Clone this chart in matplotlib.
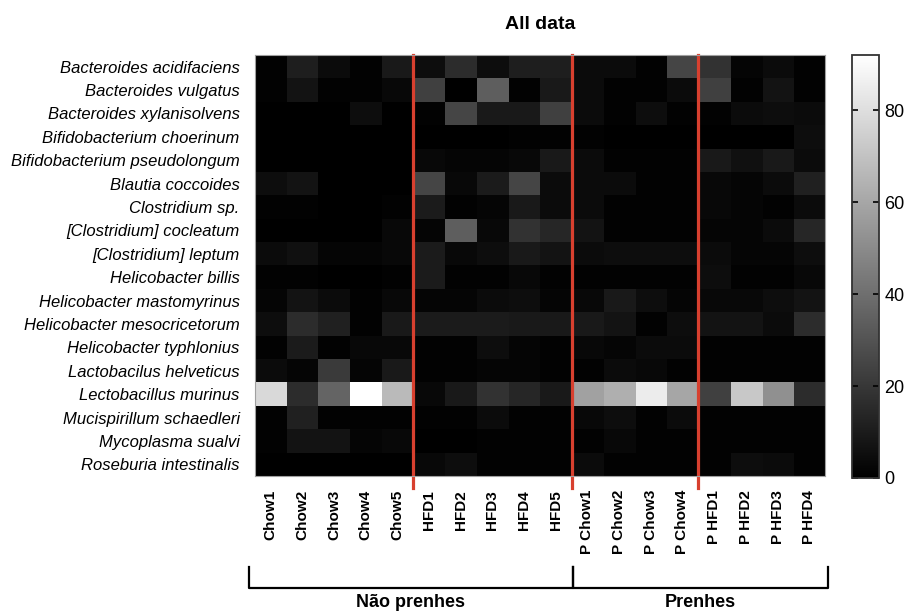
import numpy as np
import matplotlib
matplotlib.use('Agg')
import matplotlib.pyplot as plt
import matplotlib.transforms as mtransforms

plt.rcParams['font.family'] = ['Liberation Sans', 'DejaVu Sans']

# Species (rows) and samples (columns)
species = ['Bacteroides acidifaciens', 'Bacteroides vulgatus', 'Bacteroides xylanisolvens',
           'Bifidobacterium choerinum', 'Bifidobacterium pseudolongum', 'Blautia coccoides',
           'Clostridium sp.', '[Clostridium] cocleatum', '[Clostridium] leptum',
           'Helicobacter billis', 'Helicobacter mastomyrinus', 'Helicobacter mesocricetorum',
           'Helicobacter typhlonius', 'Lactobacilus helveticus', 'Lectobacillus murinus',
           'Mucispirillum schaedleri', 'Mycoplasma sualvi', 'Roseburia intestinalis']
samples = ['Chow1', 'Chow2', 'Chow3', 'Chow4', 'Chow5',
           'HFD1', 'HFD2', 'HFD3', 'HFD4', 'HFD5',
           'P Chow1', 'P Chow2', 'P Chow3', 'P Chow4',
           'P HFD1', 'P HFD2', 'P HFD3', 'P HFD4']

# Relative abundance per species (one list per row)
acidifaciens = [1, 11, 4, 1, 9, 5, 16, 5, 11, 11, 4, 4, 1, 25, 18, 2, 4, 1]
vulgatus = [1, 7, 1, 1, 3, 23, 0, 34, 1, 9, 4, 1, 1, 4, 23, 1, 7, 1]
xylanisolvens = [0, 0, 0, 5, 0, 1, 25, 9, 9, 23, 4, 1, 5, 1, 1, 4, 5, 4]
choerinum = [0, 0, 0, 0, 0, 0, 0, 0, 1, 1, 1, 0, 0, 0, 0, 0, 0, 5]
pseudolongum = [0, 0, 0, 0, 0, 3, 2, 2, 3, 9, 4, 1, 1, 1, 9, 6, 9, 4]
blautia = [5, 7, 0, 0, 0, 25, 3, 10, 25, 4, 4, 4, 1, 1, 3, 2, 4, 12]
clostridium_sp = [1, 1, 0, 0, 1, 10, 1, 2, 9, 4, 4, 1, 1, 1, 3, 2, 1, 4]
cocleatum = [0, 0, 0, 0, 3, 2, 34, 3, 18, 14, 7, 1, 1, 1, 2, 2, 4, 14]
leptum = [4, 6, 2, 2, 3, 10, 3, 5, 9, 7, 4, 5, 5, 5, 4, 2, 2, 5]
billis = [1, 1, 0, 0, 1, 10, 1, 1, 3, 1, 1, 1, 1, 1, 5, 1, 1, 3]
mastomyrinus = [2, 7, 4, 1, 3, 2, 2, 4, 5, 2, 3, 9, 5, 2, 3, 3, 5, 7]
mesocricetorum = [5, 16, 12, 1, 9, 10, 10, 10, 9, 9, 9, 7, 1, 5, 7, 7, 4, 16]
typhlonius = [1, 10, 1, 3, 3, 1, 1, 5, 2, 1, 3, 2, 4, 4, 1, 1, 1, 1]
helveticus = [4, 2, 21, 2, 9, 1, 1, 2, 2, 1, 1, 4, 3, 1, 1, 1, 1, 1]
murinus = [78, 16, 36, 92, 67, 3, 9, 18, 14, 9, 58, 63, 85, 60, 23, 72, 52, 16]
mucispirillum = [1, 12, 1, 1, 1, 1, 1, 4, 1, 1, 3, 5, 1, 4, 1, 1, 1, 1]
mycoplasma = [1, 7, 7, 2, 3, 0, 0, 1, 1, 1, 1, 3, 1, 1, 1, 1, 1, 1]
roseburia = [0, 0, 0, 0, 0, 3, 5, 1, 1, 1, 4, 1, 1, 1, 1, 5, 4, 1]

data = np.array([acidifaciens, vulgatus, xylanisolvens, choerinum, pseudolongum,
                 blautia, clostridium_sp, cocleatum, leptum, billis, mastomyrinus,
                 mesocricetorum, typhlonius, helveticus, murinus, mucispirillum,
                 mycoplasma, roseburia])

group_breaks = [5, 10, 14]  # red separators after these columns
groups = ['Não prenhes', 'Prenhes']
group_spans = [(0, 10), (10, 18)]

fig = plt.figure(figsize=(9.07, 6.12), dpi=100)
ax = fig.add_axes([0.2811, 0.2222, 0.6285, 0.6879])
im = ax.imshow(data, cmap='gray', vmin=0, vmax=92, aspect='auto', interpolation='nearest')

ax.set_xticks(range(len(samples)))
ax.set_xticklabels(samples, rotation=90, fontsize=11, fontweight='bold')
ax.set_yticks(range(len(species)))
ax.set_yticklabels(species, fontsize=12, style='italic')
ax.tick_params(length=0)
ax.tick_params(axis='x', pad=10)
ax.tick_params(axis='y', pad=11)
for s in ax.spines.values():
    s.set_color('#a0a0a0')
    s.set_linewidth(0.8)

# red group separators, running a little below the map
for b in group_breaks:
    ax.plot([b - 0.5, b - 0.5], [-0.5, 18.0], color='#d8402f', lw=2.3, clip_on=False)

ax.set_title('All data', fontsize=14, fontweight='bold', pad=19)

# brackets under the sample labels
trans = mtransforms.blended_transform_factory(ax.transData, fig.transFigure)
for name, (a, b) in zip(groups, group_spans):
    x0 = a - 0.5 - (0.2 if a == 0 else -0.05)
    x1 = b - 0.5 + (0.1 if b == len(samples) else 0.05)
    ax.plot([x0, x0, x1, x1], [0.0735, 0.0392, 0.0392, 0.0735], color='black',
            lw=1.6, transform=trans, clip_on=False)
    ax.text((x0 + x1) / 2, 0.016, name, transform=trans, ha='center', va='center',
            fontsize=13, fontweight='bold')

ax.set_xlim(-0.5, len(samples) - 0.5)
ax.set_ylim(len(species) - 0.5, -0.5)

cax = fig.add_axes([0.9394, 0.219, 0.0298, 0.691])
cbar = fig.colorbar(im, cax=cax, ticks=[0, 20, 40, 60, 80])
cbar.outline.set_linewidth(1.3)
cbar.outline.set_edgecolor('#333333')
cax.tick_params(direction='in', left=True, right=True, length=4, width=1.2,
                labelsize=13, pad=4)

fig.savefig('out.png', dpi=100)
